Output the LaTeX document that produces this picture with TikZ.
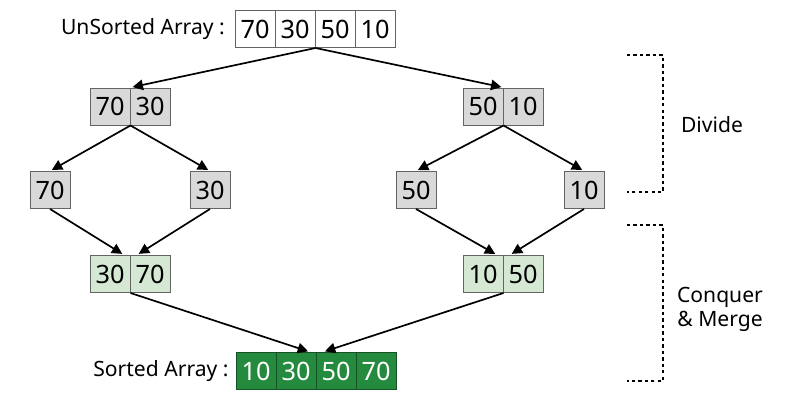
\documentclass[tikz,border=0pt]{standalone}
\usepackage{fontspec}
\setmainfont{Noto Sans}
\usetikzlibrary{arrows.meta, positioning, calc}
\definecolor{cellgray}{RGB}{217, 217, 217}
\definecolor{edgegray}{RGB}{100, 100, 100}
\definecolor{mergegreen}{RGB}{213, 232, 212}
\definecolor{sortgreen}{RGB}{36, 138, 61}
\definecolor{sortedge}{RGB}{22, 82, 38}
\tikzset{
  >=Triangle,
  splitarrow/.style={-{Triangle[length=2.6mm, width=2.6mm]}, line width=1.2pt, black, shorten >=1.5pt},
  bracketline/.style={line width=1.2pt, dash pattern=on 2.4pt off 2.2pt}
}

\begin{document}
\begin{tikzpicture}[
    x=0.025cm, y=-0.025cm,
    cell/.style={rectangle, draw=edgegray, line width=0.7pt, minimum width=1cm, minimum height=0.925cm, inner sep=0pt, font=\fontsize{18}{20}\selectfont},
    plaincell/.style={cell, fill=white},
    graycell/.style={cell, fill=cellgray},
    mergecell/.style={cell, fill=mergegreen},
    sortcell/.style={cell, draw=sortedge, fill=sortgreen, text=white},
    arraylabel/.style={font=\fontsize{15}{18}\selectfont}
]
    \useasboundingbox (0,0) rectangle (800,400);

    % unsorted input
    \foreach \v [count=\i] in {70,30,50,10}
        \node[plaincell] (u\i) at ({215+40*\i}, 29) {\v};
    \node[arraylabel, left=0.12cm of u1] (ulabel) {UnSorted Array :};

    % divide
    \node[graycell] (a1) at (110, 106.5) {70};
    \node[graycell] (a2) at (150, 106.5) {30};
    \node[graycell] (b1) at (483, 106.5) {50};
    \node[graycell] (b2) at (523, 106.5) {10};

    \node[graycell] (c1) at (50, 190) {70};
    \node[graycell] (c2) at (210, 190) {30};
    \node[graycell] (c3) at (416, 190) {50};
    \node[graycell] (c4) at (584, 190) {10};

    % merge
    \node[mergecell] (m1) at (110, 274) {30};
    \node[mergecell] (m2) at (150, 274) {70};
    \node[mergecell] (n1) at (483, 274) {10};
    \node[mergecell] (n2) at (523, 274) {50};

    \foreach \v [count=\i] in {10,30,50,70}
        \node[sortcell] (s\i) at ({216+40*\i}, 371) {\v};
    \node[arraylabel, left=0.05cm of s1] (slabel) {Sorted Array :};

    \draw[splitarrow] (u2.south east) -- (a1.north east);
    \draw[splitarrow] (u2.south east) -- (b1.north east);

    \draw[splitarrow] (a1.south east) -- (c1.north);
    \draw[splitarrow] (a1.south east) -- (c2.north);
    \draw[splitarrow] (b1.south east) -- (c3.north);
    \draw[splitarrow] (b1.south east) -- (c4.north);

    \draw[splitarrow] (c1.south) -- ([xshift=-0.16cm]m1.north east);
    \draw[splitarrow] (c2.south) -- ([xshift=0.16cm]m1.north east);
    \draw[splitarrow] (c3.south) -- ([xshift=-0.16cm]n1.north east);
    \draw[splitarrow] (c4.south) -- ([xshift=0.16cm]n1.north east);

    \draw[splitarrow] (m1.south east) -- ([xshift=-0.16cm]s2.north east);
    \draw[splitarrow] (n1.south east) -- ([xshift=0.16cm]s2.north east);

    % phase brackets
    \draw[bracketline] (627, 55) -- (663, 55) -- (663, 192) -- (627, 192);
    \draw[bracketline] (627, 225) -- (663, 225) -- (663, 381) -- (627, 381);
    \node[arraylabel] (divide) at (712, 125) {Divide};
    \node[arraylabel, align=center, font=\fontsize{15}{17}\selectfont] (conquer) at (720, 309) {Conquer\\\& Merge};
\end{tikzpicture}
\end{document}
